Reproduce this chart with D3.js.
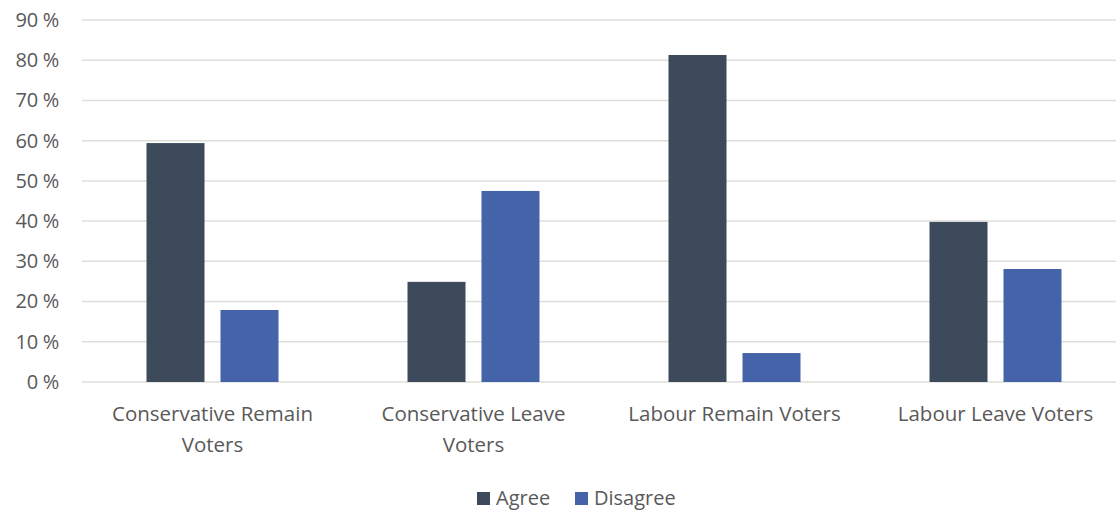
<!DOCTYPE html>
<html><head><meta charset="utf-8">
<script src="https://cdn.jsdelivr.net/npm/d3@7"></script>
<style>body{margin:0;background:#fff}svg{display:block}text{font-family:"Open Sans",sans-serif;fill:#595959}</style>
</head><body><svg id="c" width="1116" height="512"></svg>
<script>
const categories = [["Conservative Remain","Voters"],["Conservative Leave","Voters"],["Labour Remain Voters"],["Labour Leave Voters"]];
const seriesNames = ["Agree","Disagree"];
const agree = [59.4, 24.9, 81.3, 39.8];
const disagree = [17.9, 47.5, 7.2, 28.1];
const yTicks = [0,10,20,30,40,50,60,70,80,90];
const colors = ["#3c4a5c","#4563a8"];

const svg = d3.select("#c");
const catKeys = categories.map(c=>c.join(" "));
const x = d3.scaleBand().domain(catKeys).range([82,1126]).paddingInner(0).paddingOuter(0);
const y = d3.scaleLinear().domain([0,90]).range([382,20]);
const barW = 58, gap = 16;

// gridlines
svg.append("g").selectAll("line").data(yTicks).join("line")
  .attr("x1",82).attr("x2",1116).attr("y1",d=>y(d)).attr("y2",d=>y(d))
  .attr("stroke","#deded9").attr("stroke-width",1.5);

// y labels
const yAxis = d3.axisLeft(y).tickValues(yTicks).tickFormat(d=>d+" %").tickSize(0).tickPadding(0);
const ga = svg.append("g").attr("transform","translate(59,0)").call(yAxis);
ga.select(".domain").remove();
ga.selectAll("text").attr("font-size",20).attr("font-family","'Open Sans', sans-serif").attr("fill","#595959").style("letter-spacing","-0.3px");

const data = catKeys.map((k,i)=>({k, vals:[agree[i],disagree[i]]}));
const g = svg.append("g");
data.forEach(d=>{
  const c = x(d.k)+x.bandwidth()/2;
  d.vals.forEach((v,j)=>{
    const bx = j===0 ? c-gap/2-barW : c+gap/2;
    g.append("rect").attr("x",bx).attr("width",barW).attr("y",y(v)).attr("height",y(0)-y(v)).attr("fill",colors[j]);
  });
});

// category labels
categories.forEach((lines,i)=>{
  const c = x(catKeys[i])+x.bandwidth()/2;
  const t = svg.append("text").attr("x",c).attr("y",421).attr("text-anchor","middle").attr("font-size",20.5);
  lines.forEach((l,k)=>t.append("tspan").attr("x",c).attr("dy",k===0?0:31).text(l));
});

// legend
const lg = svg.append("g");
const items = [{n:seriesNames[0],x:477},{n:seriesNames[1],x:575}];
items.forEach((it,j)=>{
  lg.append("rect").attr("x",it.x).attr("y",492).attr("width",13).attr("height",13).attr("fill",colors[j]);
  lg.append("text").attr("x",it.x+19).attr("y",505).attr("font-size",20).text(it.n);
});
</script></body></html>
